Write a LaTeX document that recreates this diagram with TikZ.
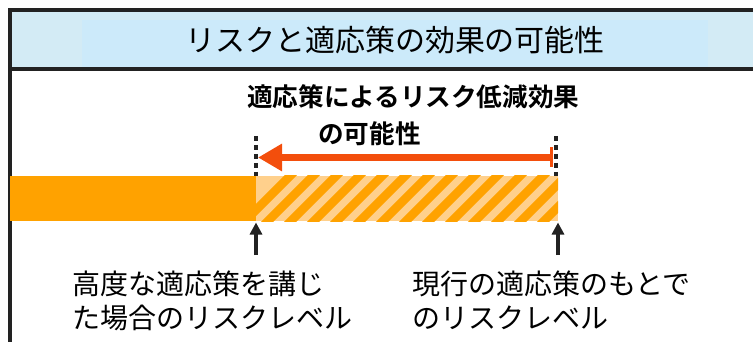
\documentclass[tikz,border=0pt]{standalone}
\usepackage{fontspec}
\newfontfamily\jp{Noto Sans CJK JP}[BoldFont={Noto Sans CJK JP Bold}]
\usetikzlibrary{arrows.meta}
\definecolor{bandblue}{RGB}{211,235,245}
\definecolor{innerblue}{RGB}{204,234,250}
\definecolor{framegray}{RGB}{34,34,34}
\definecolor{barorange}{RGB}{255,162,0}
\definecolor{lightorange}{RGB}{255,208,140}
\definecolor{redarrow}{RGB}{243,78,12}
\tikzset{
  frame/.style={draw=framegray, line width=4pt},
  titletext/.style={font=\jp\fontsize{30}{36}\selectfont, inner sep=0pt},
  subtext/.style={font=\jp\bfseries\fontsize{25.6}{37}\selectfont, inner sep=0pt, align=left, anchor=north west},
  labeltext/.style={font=\jp\fontsize{28}{34}\selectfont, inner sep=0pt, align=left, anchor=north west},
  guide/.style={draw=framegray, line width=4pt, dash pattern=on 5pt off 4pt},
  effectarrow/.style={draw=redarrow, line width=7pt, {Bar[width=20pt,line width=3pt]}-{Triangle[length=24pt,width=26pt]}},
  levelarrow/.style={draw=framegray, line width=3.5pt, -{Triangle[length=12pt,width=12pt]}},
  stripe/.style={draw=barorange, line width=8.5pt}
}
\begin{document}
\begin{tikzpicture}[x=1pt,y=-1pt]
\useasboundingbox (0,0) rectangle (753,342);
% title band
\fill[bandblue] (9.5,10) rectangle (753,69.5);
\fill[innerblue] (82,20) rectangle (708,67.5);
\draw[frame] (753,10) -- (9.5,10) -- (9.5,342);
\draw[frame] (9.5,69.5) -- (753,69.5);
\node[titletext] (title) at (395,40) {リスクと適応策の効果の可能性};
% subtitle
\node[subtext] (effect) at (247,84) {適応策によるリスク低減効果\\\hspace*{71pt}の可能性};
% bar
\fill[barorange] (10,176) rectangle (256,221.5);
\fill[lightorange] (256,176) rectangle (558,221.5);
\begin{scope}
  \clip (256,176) rectangle (558,221.5);
  \foreach \i in {0,...,16} \draw[stripe] (226+\i*23,240) -- ++(80,-80);
\end{scope}
% named points
\coordinate (advTop) at (256,136);
\coordinate (advBar) at (256,176);
\coordinate (curTop) at (556,136);
\coordinate (curBar) at (556,176);
\coordinate (effStart) at (553,157.5);
\coordinate (effEnd) at (258,157.5);
\coordinate (advLow) at (256,255);
\coordinate (advHigh) at (256,222.5);
\coordinate (curLow) at (558,255);
\coordinate (curHigh) at (558,222.5);
% guides
\draw[guide] (advTop) -- (advBar);
\draw[guide] (curTop) -- (curBar);
% effect arrow
\draw[effectarrow] (effStart) -- (effEnd);
% level arrows
\draw[levelarrow] (advLow) -- (advHigh);
\draw[levelarrow] (curLow) -- (curHigh);
% labels
\node[labeltext] (advLabel) at (72,271) {高度な適応策を講じ\\た場合のリスクレベル};
\node[labeltext] (curLabel) at (412,271) {現行の適応策のもとで\\のリスクレベル};
\end{tikzpicture}
\end{document}
